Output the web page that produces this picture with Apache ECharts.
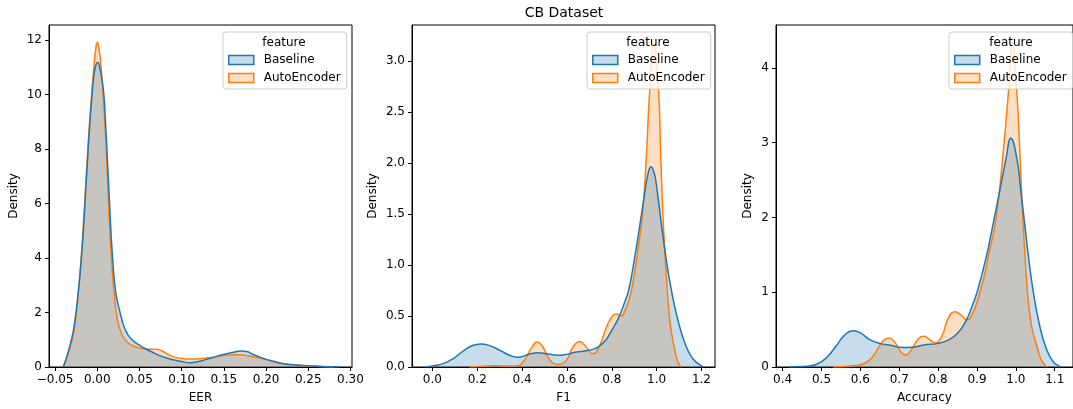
<!DOCTYPE html>
<html><head><meta charset="utf-8">
<script src="https://cdn.jsdelivr.net/npm/echarts@6/dist/echarts.min.js"></script>
<style>html,body{margin:0;padding:0;background:#fff}#c{width:1073px;height:409px}</style>
</head><body><div id="c"></div><script>
// ---------- data ----------
const seriesNames = ['Baseline', 'AutoEncoder'];
const legendTitle = 'feature';
const chartTitle = 'CB Dataset';
const xNames = ['EER', 'F1', 'Accuracy'];
const yName = 'Density';

// Panel 1: EER
const eerTicksX = [-0.05, 0, 0.05, 0.10, 0.15, 0.20, 0.25, 0.30];
const eerTicksY = [0, 2, 4, 6, 8, 10, 12];
const eerBaseX = [-0.0405,-0.0367,-0.0312,-0.0272,-0.0225,-0.0189,-0.0161,-0.0138,-0.0114,-0.0090,-0.0059,-0.003,0.0005,0.0035,0.0075,0.0099,0.0119,0.0139,0.0158,0.0182,0.0218,0.027,0.032,0.037,0.043,0.05,0.057,0.065,0.073,0.083,0.093,0.10,0.11,0.12,0.128,0.138,0.148,0.16,0.17,0.177,0.184,0.192,0.20,0.21,0.22,0.235,0.25,0.265,0.28,0.287];
const eerBaseY = [0,0.32,0.93,1.54,2.76,3.99,5.2,6.43,7.66,8.88,10.1,10.9,11.18,10.9,10.1,8.88,7.66,6.43,5.2,3.99,2.76,2.0,1.45,1.15,0.95,0.8,0.67,0.55,0.43,0.32,0.245,0.2,0.16,0.2,0.27,0.36,0.45,0.53,0.59,0.57,0.47,0.37,0.28,0.19,0.12,0.07,0.045,0.02,0.005,0];
const eerAutoX = [-0.0400,-0.0367,-0.031,-0.027,-0.0225,-0.019,-0.0165,-0.0142,-0.0118,-0.0093,-0.0064,-0.0035,-0.001,0.0003,0.002,0.0045,0.0067,0.0091,0.0111,0.0128,0.0146,0.0168,0.0198,0.0241,0.029,0.035,0.042,0.05,0.058,0.065,0.07,0.076,0.083,0.09,0.10,0.11,0.12,0.13,0.14,0.15,0.16,0.17,0.18,0.19,0.20,0.21,0.22,0.235,0.25,0.265,0.28];
const eerAutoY = [0,0.28,0.85,1.45,2.7,4.0,5.2,6.43,7.66,8.88,10.1,11.2,11.85,11.91,11.7,11.0,10.1,8.88,7.66,6.43,5.2,4.0,2.76,1.7,1.2,0.93,0.78,0.7,0.66,0.65,0.65,0.6,0.48,0.38,0.31,0.29,0.3,0.33,0.37,0.42,0.45,0.45,0.4,0.34,0.27,0.2,0.13,0.07,0.04,0.015,0];

// Panel 2: F1
const f1TicksX = [0, 0.2, 0.4, 0.6, 0.8, 1.0, 1.2];
const f1TicksY = [0, 0.5, 1.0, 1.5, 2.0, 2.5, 3.0];
const f1BaseX = [-0.027,0.0,0.048,0.092,0.137,0.174,0.215,0.256,0.30,0.345,0.38,0.434,0.471,0.508,0.56,0.597,0.642,0.686,0.73,0.768,0.80,0.83,0.855,0.876,0.902,0.925,0.948,0.962,0.975,0.99,1.003,1.022,1.042,1.062,1.08,1.1,1.125,1.15,1.175,1.2,1.21];
const f1BaseY = [0,0.01,0.033,0.08,0.157,0.206,0.226,0.21,0.164,0.115,0.095,0.128,0.14,0.13,0.115,0.124,0.147,0.16,0.185,0.25,0.36,0.48,0.62,0.76,1.07,1.39,1.72,1.9,1.966,1.9,1.72,1.39,1.07,0.8,0.6,0.42,0.24,0.12,0.05,0.012,0];
const f1AutoX = [0.166,0.22,0.27,0.32,0.374,0.41,0.44,0.468,0.493,0.523,0.56,0.597,0.627,0.657,0.686,0.716,0.746,0.776,0.806,0.822,0.843,0.86,0.88,0.90,0.92,0.937,0.954,0.969,0.987,1.008,1.018,1.029,1.046,1.061,1.081,1.095,1.11];
const f1AutoY = [0,0.008,0.013,0.01,0.01,0.065,0.18,0.245,0.196,0.072,0.026,0.065,0.196,0.25,0.196,0.13,0.21,0.39,0.507,0.52,0.5,0.56,0.68,0.9,1.2,1.5,2.05,2.7,3.17,2.75,2.1,1.45,0.8,0.42,0.17,0.05,0];

// Panel 3: Accuracy
const accTicksX = [0.4, 0.5, 0.6, 0.7, 0.8, 0.9, 1.0, 1.1];
const accTicksY = [0, 1, 2, 3, 4];
const accBaseX = [0.417,0.463,0.489,0.514,0.539,0.56,0.581,0.602,0.623,0.649,0.674,0.712,0.733,0.763,0.80,0.826,0.85,0.872,0.89,0.902,0.923,0.941,0.958,0.975,0.987,1.0025,1.013,1.023,1.033,1.045,1.061,1.078,1.096,1.112,1.115];
const accBaseY = [0,0.01,0.04,0.13,0.29,0.43,0.486,0.45,0.37,0.316,0.294,0.26,0.263,0.294,0.316,0.36,0.45,0.62,0.85,1.03,1.45,1.9,2.34,2.79,3.057,2.79,2.34,1.9,1.45,1.0,0.56,0.25,0.07,0.01,0];
const accAutoX = [0.53,0.59,0.615,0.632,0.649,0.661,0.674,0.687,0.704,0.716,0.729,0.75,0.763,0.775,0.792,0.809,0.826,0.844,0.86,0.875,0.889,0.902,0.918,0.932,0.948,0.966,0.981,0.991,1.0025,1.011,1.019,1.03,1.04,1.053,1.064,1.074,1.078];
const accAutoY = [0,0.02,0.06,0.14,0.28,0.36,0.388,0.34,0.205,0.16,0.214,0.38,0.41,0.38,0.325,0.405,0.65,0.74,0.69,0.63,0.72,0.9,1.2,1.55,1.95,2.79,3.68,4.33,3.68,2.79,1.9,1.0,0.56,0.3,0.11,0.03,0];

// ---------- layout / style ----------
const BLUE = '#1f77b4', ORANGE = '#ff7f0e';
const FONT = 'DejaVu Sans';
const panels = [
  {left:49,  xMin:-0.0572, xMax:0.3018, yMax:12.55, tx:eerTicksX, ty:eerTicksY, fx:v=>v.toFixed(2).replace('-', '\u2212'), fy:v=>String(v), nameGap:29,
   base:[eerBaseX,eerBaseY], auto:[eerAutoX,eerAutoY], legendLeft:223},
  {left:412, xMin:-0.091, xMax:1.2605, yMax:3.356, tx:f1TicksX, ty:f1TicksY, fx:v=>v.toFixed(1), fy:v=>v.toFixed(1), nameGap:33,
   base:[f1BaseX,f1BaseY], auto:[f1AutoX,f1AutoY], legendLeft:587},
  {left:776, xMin:0.383, xMax:1.147, yMax:4.572, tx:accTicksX, ty:accTicksY, fx:v=>v.toFixed(1), fy:v=>String(v), nameGap:22,
   base:[accBaseX,accBaseY], auto:[accAutoX,accAutoY], legendLeft:949}
];
const zip = (xs, ys) => xs.map((x, i) => [x, ys[i]]);

const grid = [], xAxis = [], yAxis = [], series = [], legend = [], graphic = [];
panels.forEach((p, i) => {
  grid.push({left:p.left, top:25, width:303, height:342, show:true, borderColor:'#000', borderWidth:1, backgroundColor:'transparent'});
  xAxis.push({type:'value', gridIndex:i, min:p.xMin, max:p.xMax,
    name:xNames[i], nameLocation:'middle', nameGap:25, nameTextStyle:{fontSize:12, color:'#000', fontFamily:FONT},
    axisLine:{show:true, onZero:false, lineStyle:{color:'#000', width:1}},
    axisTick:{show:true, inside:false, length:4, lineStyle:{color:'#000'}, customValues:p.tx},
    axisLabel:{show:true, margin:7, fontSize:12, color:'#000', fontFamily:FONT, customValues:p.tx, formatter:p.fx},
    splitLine:{show:false}});
  yAxis.push({type:'value', gridIndex:i, min:0, max:p.yMax,
    name:yName, nameLocation:'middle', nameRotate:90, nameGap:p.nameGap, nameTextStyle:{fontSize:12, color:'#000', fontFamily:FONT},
    axisLine:{show:true, onZero:false, lineStyle:{color:'#000', width:1}},
    axisTick:{show:true, inside:false, length:4, lineStyle:{color:'#000'}, customValues:p.ty},
    axisLabel:{show:true, margin:7, fontSize:12, color:'#000', fontFamily:FONT, customValues:p.ty, formatter:p.fy},
    splitLine:{show:false}});
  const mk = (name, col, d) => ({type:'line', name, xAxisIndex:i, yAxisIndex:i, data:zip(d[0], d[1]),
    showSymbol:false, symbol:'none', smooth:0.5,
    lineStyle:{color:col, width:1.5}, itemStyle:{color:col},
    areaStyle:{color:col, opacity:0.25}, z:2, silent:true});
  series.push(mk(seriesNames[1], ORANGE, p.auto));
  series.push(mk(seriesNames[0], BLUE, p.base));
  legend.push({orient:'vertical', left:p.legendLeft, top:32, icon:'rect', itemWidth:25, itemHeight:9, itemGap:4,
    padding:[21, 6, 4, 5], backgroundColor:'rgba(255,255,255,0.8)', borderColor:'#cccccc', borderWidth:1, borderRadius:3,
    textStyle:{fontSize:12, color:'#000', fontFamily:FONT, padding:[0,0,0,5], lineHeight:14},
    data:[
      {name:seriesNames[0], itemStyle:{color:'rgba(31,119,180,0.25)', borderColor:BLUE, borderWidth:1.5}},
      {name:seriesNames[1], itemStyle:{color:'rgba(255,127,14,0.25)', borderColor:ORANGE, borderWidth:1.5}}
    ]});
});
const legendCenters = [284, 648, 1011];
legendCenters.forEach(cx => graphic.push({type:'text', x:cx, y:43, z:100,
  style:{text:legendTitle, fill:'#000', font:'12px "DejaVu Sans"', textAlign:'center', textVerticalAlign:'middle'}}));

const chart = echarts.init(document.getElementById('c'), null, {renderer:'canvas'});
chart.setOption({
  animation:false,
  backgroundColor:'#fff',
  title:{text:chartTitle, left:564, top:6, padding:0, textAlign:'center',
    textStyle:{fontSize:14, fontWeight:'normal', color:'#000', fontFamily:FONT}},
  grid, xAxis, yAxis, series, legend, graphic
});
</script></body></html>
